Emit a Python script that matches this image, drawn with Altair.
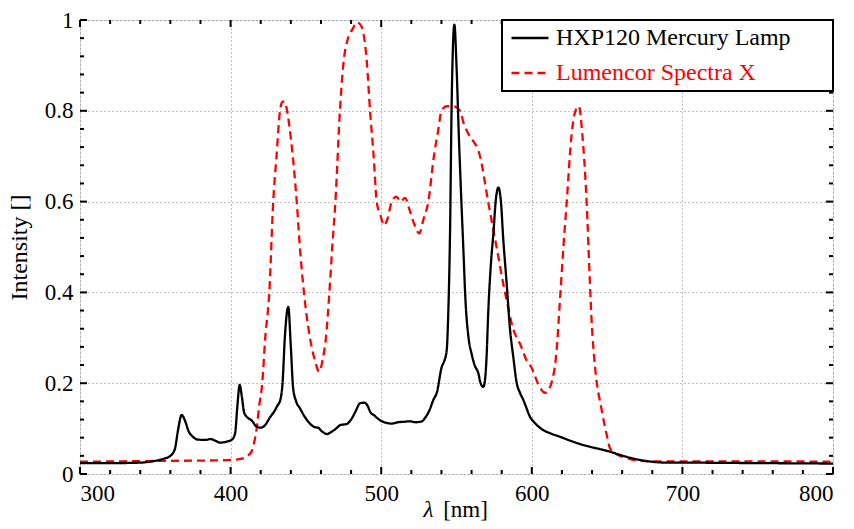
import altair as alt
import pandas as pd

# ---- data ----
hxp_wl = [300, 320, 340, 348, 355, 360, 363, 365, 367.5, 370, 372, 375, 378, 383, 387, 390, 393, 397, 401,
          403, 404.5, 406, 407.5, 409, 411, 414, 417, 420, 423, 426, 429, 431, 433, 434.5, 436, 438.3, 440,
          441.5, 443.5, 446, 450, 453, 456, 458, 461, 464, 467, 470, 473, 477, 480, 483, 486, 489, 491, 493,
          495, 499, 503, 507, 511, 515, 519, 523, 527, 529, 532, 534.6, 537, 540.2, 542, 543.5, 544.5, 545.7,
          546.8, 548.6, 550, 551.5, 553, 554.5, 556, 558, 560, 562, 564.5, 566, 567.8, 569, 570, 571, 573,
          574.5, 576, 577.8, 579.5, 581, 583.3, 585.5, 587.7, 590, 592, 594.4, 596.5, 598.8, 601, 603.3, 607,
          612, 618.7, 625, 632, 638.6, 645, 652, 658.6, 665, 671.8, 680, 689.5, 700, 750, 800]
hxp_val = [0.024, 0.024, 0.025, 0.028, 0.033, 0.040, 0.055, 0.095, 0.130, 0.115, 0.095, 0.082, 0.076, 0.075,
           0.077, 0.073, 0.069, 0.071, 0.076, 0.090, 0.150, 0.196, 0.170, 0.135, 0.125, 0.118, 0.105, 0.102,
           0.108, 0.124, 0.138, 0.150, 0.163, 0.200, 0.300, 0.368, 0.280, 0.190, 0.160, 0.145, 0.122, 0.110,
           0.103, 0.102, 0.093, 0.088, 0.093, 0.100, 0.108, 0.110, 0.120, 0.138, 0.156, 0.157, 0.150, 0.135,
           0.130, 0.119, 0.113, 0.111, 0.114, 0.115, 0.116, 0.114, 0.116, 0.123, 0.140, 0.163, 0.180, 0.236,
           0.250, 0.273, 0.350, 0.530, 0.820, 0.990, 0.900, 0.750, 0.620, 0.500, 0.380, 0.300, 0.265, 0.240,
           0.222, 0.200, 0.192, 0.210, 0.260, 0.350, 0.470, 0.530, 0.600, 0.631, 0.600, 0.520, 0.420, 0.320,
           0.258, 0.200, 0.180, 0.163, 0.145, 0.126, 0.116, 0.108, 0.098, 0.090, 0.082, 0.074, 0.066, 0.060,
           0.055, 0.049, 0.042, 0.036, 0.031, 0.027, 0.025, 0.025, 0.024, 0.023]

lum_wl = [300, 330, 360, 390, 400, 406, 410, 412, 414, 416, 417.3, 419, 421, 423, 425.7, 428.3, 430.5, 432.8,
          434.5, 436, 437.5, 440, 443.9, 446, 448.7, 452.7, 456, 458.9, 461, 463.3, 465.6, 467.5, 469.6, 472.6,
          474.8, 478, 481, 484, 487, 490.4, 492.6, 495, 497, 499.5, 501.9, 504, 507, 510, 513, 515.8, 519, 522,
          525.3, 528, 531.3, 535, 538, 540, 543.5, 548, 552.3, 555, 557.8, 565.6, 571, 576.6, 582.2, 583.3,
          587.6, 590, 592, 596.6, 600, 604, 608.8, 611, 613, 616.5, 618.7, 621, 623.2, 626.5, 629, 631.3, 633.5,
          636.4, 638.6, 639.7, 642, 646.4, 649.5, 651.9, 655, 658.6, 664, 669.6, 680, 700, 750, 800]
lum_val = [0.027, 0.028, 0.029, 0.030, 0.031, 0.033, 0.037, 0.042, 0.050, 0.075, 0.100, 0.150, 0.200, 0.300,
           0.400, 0.600, 0.700, 0.800, 0.820, 0.820, 0.800, 0.740, 0.600, 0.500, 0.400, 0.300, 0.250, 0.225,
           0.250, 0.300, 0.400, 0.500, 0.600, 0.800, 0.900, 0.960, 0.980, 0.995, 0.985, 0.910, 0.800, 0.700,
           0.600, 0.570, 0.548, 0.560, 0.600, 0.611, 0.600, 0.608, 0.580, 0.550, 0.530, 0.560, 0.600, 0.700,
           0.760, 0.800, 0.810, 0.810, 0.800, 0.770, 0.750, 0.700, 0.600, 0.500, 0.400, 0.383, 0.320,
           0.300, 0.288, 0.250, 0.233, 0.200, 0.179, 0.185, 0.200, 0.273, 0.383, 0.500, 0.600, 0.750, 0.800,
           0.810, 0.750, 0.600, 0.420, 0.339, 0.236, 0.141, 0.090, 0.057, 0.046, 0.040, 0.034, 0.030, 0.028,
           0.028, 0.028, 0.027]

series_names = ["HXP120 Mercury Lamp", "Lumencor Spectra X"]
series_colors = ["black", "red"]

x_major = [300, 400, 500, 600, 700, 800]
x_minor = [v for v in range(300, 801, 20) if v % 100 != 0]
y_major = [0, 0.2, 0.4, 0.6, 0.8, 1.0]
y_minor = [0.04, 0.08, 0.12, 0.16, 0.24, 0.28, 0.32, 0.36, 0.44, 0.48, 0.52, 0.56,
           0.64, 0.68, 0.72, 0.76, 0.84, 0.88, 0.92, 0.96]

# ---- build tables ----
df = pd.concat([
    pd.DataFrame({"wl": lum_wl, "val": lum_val, "series": series_names[1]}),
    pd.DataFrame({"wl": hxp_wl, "val": hxp_val, "series": series_names[0]}),
], ignore_index=True)

W, H = 753, 454
FONT = "Liberation Serif"
LW = 2.3
FS = 23

xscale = alt.Scale(domain=[300, 800], nice=False, zero=False)
yscale = alt.Scale(domain=[0, 1], nice=False)

legend = alt.Legend(
    title=None, orient="none", legendX=430, legendY=-2,
    symbolType="stroke", symbolSize=1369, symbolStrokeWidth=LW,
    labelFont=FONT, labelFontSize=24, labelOffset=6, labelLimit=500,
    labelColor=alt.ExprRef("indexof(datum.value, 'Lumencor') >= 0 ? 'red' : 'black'"),
    padding=0, rowPadding=3,
)

color = alt.Color("series:N", scale=alt.Scale(domain=series_names, range=series_colors), legend=legend)
dash = alt.StrokeDash("series:N", scale=alt.Scale(domain=series_names, range=[[1, 0], [8, 5]]), legend=legend)

base = alt.Chart(df)

lines_red = base.transform_filter(alt.datum.series == series_names[1]).mark_line(
    strokeWidth=LW, interpolate="monotone"
).encode(
    x=alt.X("wl:Q", scale=xscale, axis=alt.Axis(values=x_major, title=None, grid=True, ticks=False, domain=False,
                                                labelPadding=8, labelFont=FONT, labelFontSize=FS, labelColor="black",
                                                gridDash=[1, 3], gridColor="#808080", gridWidth=1)),
    y=alt.Y("val:Q", scale=yscale, axis=alt.Axis(values=y_major, title="Intensity []", grid=True, ticks=False,
                                                 domain=False, format=".1~f", labelPadding=7, labelFont=FONT,
                                                 labelFontSize=FS, labelColor="black", titleFont=FONT,
                                                 titleFontSize=24, titleFontWeight="normal", titleColor="black",
                                                 titlePadding=13, gridDash=[1, 3], gridColor="#808080",
                                                 gridWidth=1)),
    color=color, strokeDash=dash,
)
lines_black = base.transform_filter(alt.datum.series == series_names[0]).mark_line(
    strokeWidth=LW, interpolate="monotone"
).encode(x="wl:Q", y="val:Q", color=color, strokeDash=dash)

# legend frame (white box with black border, top-right corner of the plot)
legend_box = alt.Chart(pd.DataFrame({"k": [0]})).mark_rect(
    fill="white", stroke="black", strokeWidth=2
).encode(x=alt.value(422), x2=alt.value(W), y=alt.value(0), y2=alt.value(71))

# inward ticks
def xticks(vals, length):
    d = pd.DataFrame({"t": vals})
    bot = alt.Chart(d).mark_rule(color="black", strokeWidth=2).encode(
        x=alt.X("t:Q", scale=xscale), y=alt.value(H), y2=alt.value(H - length))
    top = alt.Chart(d).mark_rule(color="black", strokeWidth=2).encode(
        x=alt.X("t:Q", scale=xscale), y=alt.value(0), y2=alt.value(length))
    return bot + top

def yticks(vals, length):
    d = pd.DataFrame({"t": vals})
    left = alt.Chart(d).mark_rule(color="black", strokeWidth=2).encode(
        y=alt.Y("t:Q", scale=yscale), x=alt.value(0), x2=alt.value(length))
    right = alt.Chart(d).mark_rule(color="black", strokeWidth=2).encode(
        y=alt.Y("t:Q", scale=yscale), x=alt.value(W), x2=alt.value(W - length))
    return left + right

ticks = xticks(x_major, 7) + xticks(x_minor, 4) + yticks(y_major, 7) + yticks(y_minor, 4)

# x-axis title with italic lambda
lam = alt.Chart(pd.DataFrame({"s": ["λ"]})).mark_text(
    font=FONT, fontSize=FS, fontStyle="italic", align="center", baseline="alphabetic", color="black"
).encode(x=alt.value(348.5), y=alt.value(497), text="s:N")
unit = alt.Chart(pd.DataFrame({"s": ["[nm]"]})).mark_text(
    font=FONT, fontSize=FS, align="center", baseline="alphabetic", color="black"
).encode(x=alt.value(385.5), y=alt.value(497), text="s:N")

chart = alt.layer(lines_red, lines_black, ticks, legend_box, lam, unit).properties(
    width=W, height=H,
    autosize=alt.AutoSizeParams(type="none"),
    padding={"left": 80, "top": 20, "right": 21, "bottom": 55},
).configure_view(
    stroke="black", strokeWidth=2
).configure(background="white")

chart.save("out.html", embed_options={"renderer": "svg", "actions": False})
